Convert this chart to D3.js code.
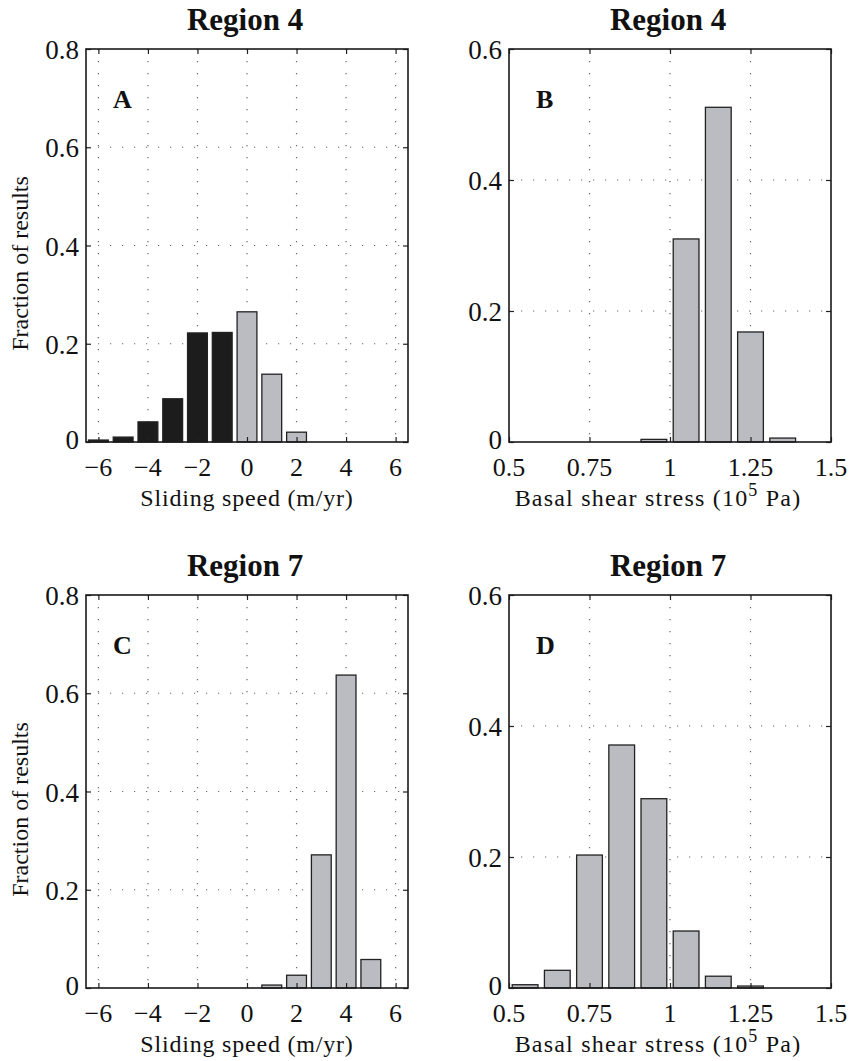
<!DOCTYPE html>
<html>
<head>
<meta charset="utf-8">
<script src="https://cdn.jsdelivr.net/npm/d3@7"></script>
<style>
  body { margin: 0; background: #fff; }
  svg { display: block; }
  text { font-family: "Liberation Serif", "Times New Roman", serif; fill: #111; }
</style>
</head>
<body>
<svg id="canvas" width="850" height="1061"></svg>
<script>
// bin centres
const speedBins = [-6, -5, -4, -3, -2, -1, 0, 1, 2, 3, 4, 5, 6];
const stressBins = [0.55, 0.65, 0.75, 0.85, 0.95, 1.05, 1.15, 1.25, 1.35, 1.45];

// fraction of results per bin
const region4Speed = [0.004, 0.01, 0.041, 0.088, 0.222, 0.223, 0.265, 0.138, 0.02, 0, 0, 0, 0];
const region4Stress = [0, 0, 0, 0, 0.004, 0.31, 0.511, 0.168, 0.006, 0];
const region7Speed = [0, 0, 0, 0, 0, 0, 0, 0.006, 0.026, 0.271, 0.637, 0.058, 0];
const region7Stress = [0.005, 0.027, 0.203, 0.371, 0.289, 0.087, 0.018, 0.003, 0, 0];

const speedTicks = [-6, -4, -2, 0, 2, 4, 6];
const stressTicks = [0.5, 0.75, 1, 1.25, 1.5];
const speedYTicks = [0, 0.2, 0.4, 0.6, 0.8];
const stressYTicks = [0, 0.2, 0.4, 0.6];

const titles = ["Region 4", "Region 4", "Region 7", "Region 7"];
const letters = ["A", "B", "C", "D"];

const svg = d3.select("#canvas");

function drawPanel({ left, top, width, height, bins, values, xDomain, yMax, xTicks, yTicks, binWidth, title, letter, kind, showYTitle }) {
  const x = d3.scaleLinear().domain(xDomain).range([left, left + width]);
  const y = d3.scaleLinear().domain([0, yMax]).range([top + height, top]);
  const g = svg.append("g");

  // dotted grid
  g.selectAll("line.vgrid")
    .data(xTicks.filter(t => x(t) > left + 2 && x(t) < left + width - 2))
    .enter()
    .append("line")
    .attr("x1", d => x(d)).attr("x2", d => x(d))
    .attr("y1", top).attr("y2", top + height)
    .attr("stroke", "#666").attr("stroke-width", 1.2)
    .attr("stroke-dasharray", "1.2,10.8");
  g.selectAll("line.hgrid")
    .data(yTicks.filter(t => t > 0 && t < yMax))
    .enter()
    .append("line")
    .attr("x1", left).attr("x2", left + width)
    .attr("y1", d => y(d)).attr("y2", d => y(d))
    .attr("stroke", "#666").attr("stroke-width", 1.2)
    .attr("stroke-dasharray", "1.2,10.8");

  // bars
  const bw = x(xDomain[0] + binWidth * 0.8) - x(xDomain[0]);
  g.selectAll("rect.bar")
    .data(bins.map((b, i) => ({ b, v: values[i] })))
    .enter()
    .append("rect")
    .attr("x", d => x(d.b) - bw / 2)
    .attr("y", d => y(d.v))
    .attr("width", bw)
    .attr("height", d => y(0) - y(d.v))
    .attr("fill", d => (kind === "split" && d.b < 0 ? "#1c1c1c" : "#bbbcc1"))
    .attr("stroke", "#222")
    .attr("stroke-width", 1.3);

  // axes (ticks inward, on all sides)
  const xAxisB = d3.axisBottom(x).tickValues(xTicks).tickSize(-5).tickFormat("");
  const xAxisT = d3.axisTop(x).tickValues(xTicks).tickSize(-5).tickFormat("");
  const yAxisL = d3.axisLeft(y).tickValues(yTicks).tickSize(-5).tickFormat("");
  const yAxisR = d3.axisRight(y).tickValues(yTicks).tickSize(-5).tickFormat("");
  [[xAxisB, `translate(0,${top + height})`], [xAxisT, `translate(0,${top})`],
   [yAxisL, `translate(${left},0)`], [yAxisR, `translate(${left + width},0)`]].forEach(([ax, tr]) => {
    const a = g.append("g").attr("transform", tr).call(ax);
    a.select(".domain").remove();
    a.selectAll("line").attr("stroke", "#222").attr("stroke-width", 1.2);
  });

  g.append("rect")
    .attr("x", left).attr("y", top)
    .attr("width", width).attr("height", height)
    .attr("fill", "none").attr("stroke", "#1a1a1a").attr("stroke-width", 1.6);

  // tick labels
  const fmt = v => (v < 0 ? "\u2212" + Math.abs(v) : String(v));
  g.selectAll("text.xt")
    .data(xTicks)
    .enter()
    .append("text")
    .attr("x", d => x(d)).attr("y", top + height + 34)
    .attr("text-anchor", "middle")
    .attr("font-size", 26)
    .text(fmt);
  g.selectAll("text.yt")
    .data(yTicks)
    .enter()
    .append("text")
    .attr("x", left - 7).attr("y", d => y(d) + (d === 0 ? 7 : 10))
    .attr("text-anchor", "end")
    .attr("font-size", 27)
    .text(d => String(d));

  // title and letter
  g.append("text")
    .attr("x", left + width / 2 - 2).attr("y", top - 19)
    .attr("text-anchor", "middle")
    .attr("font-size", 31).attr("font-weight", "bold")
    .text(title);
  g.append("text")
    .attr("x", left + 27).attr("y", top + 59)
    .attr("font-size", 26).attr("font-weight", "bold")
    .text(letter);

  // axis titles
  const xt = g.append("text")
    .attr("x", left + width / 2 - (kind === "stress" ? 12 : 0)).attr("y", top + height + 64)
    .attr("text-anchor", "middle")
    .attr("font-size", 24)
    .attr("letter-spacing", kind === "stress" ? 1.2 : 0.8);
  if (kind === "stress") {
    xt.append("tspan").text("Basal shear stress (10");
    xt.append("tspan").attr("dy", -10).attr("font-size", 18).text("5");
    xt.append("tspan").attr("dy", 10).text(" Pa)");
  } else {
    xt.text("Sliding speed (m/yr)");
  }
  if (showYTitle) {
    g.append("text")
      .attr("transform", `translate(28,${top + height / 2 + 18}) rotate(-90)`)
      .attr("text-anchor", "middle")
      .attr("font-size", 24)
      .text("Fraction of results");
  }
}

function main() {
  const W = 322, H = 393;
  drawPanel({ left: 86, top: 49, width: W, height: H, bins: speedBins, values: region4Speed,
    xDomain: [-6.5, 6.5], yMax: 0.8, xTicks: speedTicks, yTicks: speedYTicks, binWidth: 1,
    title: titles[0], letter: letters[0], kind: "split", showYTitle: true });
  drawPanel({ left: 509, top: 49, width: W, height: H, bins: stressBins, values: region4Stress,
    xDomain: [0.5, 1.5], yMax: 0.6, xTicks: stressTicks, yTicks: stressYTicks, binWidth: 0.1,
    title: titles[1], letter: letters[1], kind: "stress", showYTitle: false });
  drawPanel({ left: 86, top: 595, width: W, height: H, bins: speedBins, values: region7Speed,
    xDomain: [-6.5, 6.5], yMax: 0.8, xTicks: speedTicks, yTicks: speedYTicks, binWidth: 1,
    title: titles[2], letter: letters[2], kind: "speed", showYTitle: true });
  drawPanel({ left: 509, top: 595, width: W, height: H, bins: stressBins, values: region7Stress,
    xDomain: [0.5, 1.5], yMax: 0.6, xTicks: stressTicks, yTicks: stressYTicks, binWidth: 0.1,
    title: titles[3], letter: letters[3], kind: "stress", showYTitle: false });
}

main();
</script>
</body>
</html>
